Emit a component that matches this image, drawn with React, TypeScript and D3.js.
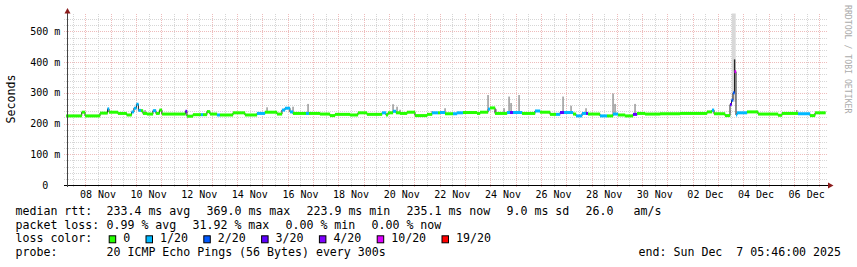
import React, { useEffect } from "react";
import * as d3 from "d3";

const W = 857;
const H = 267;
const START = new Date(Date.UTC(2025, 10, 7, 5, 46));
const END = new Date(Date.UTC(2025, 11, 7, 5, 46));
const ORIGIN = Date.UTC(2025, 10, 7); // day offsets below count from 7 Nov 00:00

// median rtt as step segments: start (days since 7 Nov 00:00), median (ms), loss class
const segDay = [
  0.240, 0.857, 0.987, 1.580, 1.876, 1.935, 2.287, 2.631, 2.828, 2.919, 3.018, 3.097, 3.196, 3.275,
  3.433, 3.670, 3.789, 3.927, 4.026, 4.954, 5.014, 5.251, 5.567, 5.646, 5.804, 5.923, 6.200, 6.318,
  6.832, 7.306, 7.780, 8.096, 8.571, 8.768, 8.887, 9.084, 9.202, 9.716, 9.835, 10.269, 10.664, 10.862,
  11.454, 11.770, 12.126, 12.719, 12.877, 12.956, 13.153, 13.272, 13.430, 13.709, 14.025, 14.499,
  14.697, 14.934, 15.013, 15.210, 15.526, 15.684, 15.921, 16.475, 16.593, 16.909, 16.988, 17.186,
  17.660, 17.778, 17.897, 18.252, 18.766, 18.964, 19.359, 19.596, 19.754, 19.912, 20.268, 20.386,
  20.623, 20.781, 20.860, 21.334, 21.611, 21.848, 22.045, 22.322, 22.638, 22.796, 23.112, 23.705,
  24.495, 25.285, 25.562, 25.759, 25.838, 26.273, 26.471, 26.530, 26.589, 26.649, 26.708, 26.747,
  27.142, 27.577, 28.367, 28.525, 29.157, 29.631, 29.829,
];
const segMs = [
  225, 237, 225, 234, 248, 237, 233, 228, 238, 250, 263, 243, 242, 233,
  231, 242, 233, 244, 231, 240, 224, 229, 229, 229, 239, 231, 228, 228,
  235, 228, 233, 237, 231, 244, 250, 238, 233, 233, 233, 231, 226, 230,
  228, 235, 230, 235, 228, 235, 240, 235, 233, 237, 226, 230,
  235, 235, 236, 232, 232, 235, 236, 233, 237, 247, 251, 233,
  236, 236, 236, 233, 241, 237, 230, 230, 236, 236, 231, 225,
  233, 233, 231, 225, 225, 231, 228, 225, 230, 233, 231, 232,
  233, 233, 238, 244, 232, 226, 262, 276, 300, 369, 228, 235,
  238, 231, 227, 233, 232, 226, 235,
];
const segLoss = [
  0, 0, 0, 0, 1, 0, 0, 0, 1, 1, 1, 1, 0, 0,
  0, 1, 0, 0, 0, 3, 0, 0, 1, 0, 0, 0, 1, 0,
  0, 0, 1, 0, 0, 1, 1, 1, 0, 1, 0, 0, 0, 0,
  0, 0, 0, 1, 0, 0, 1, 0, 0, 0, 0, 0,
  1, 0, 1, 0, 1, 1, 0, 0, 0, 1, 0, 0,
  1, 3, 1, 0, 1, 0, 0, 1, 3, 1, 0, 1,
  1, 3, 0, 1, 0, 1, 0, 0, 3, 0, 0, 0,
  0, 0, 0, 1, 0, 0, 3, 2, 2, 5, 1, 1,
  0, 0, 0, 0, 1, 0, 0,
];

// smoke: highest pings seen above the median
const spikeDay = [
  3.358, 3.753, 5.847, 8.178, 9.205, 9.798, 13.156, 13.314, 13.432, 14.697, 15.211, 16.909,
  17.226, 17.542, 17.740, 17.819, 18.135, 19.873, 20.189, 20.781, 21.848, 21.927, 22.717, 29.107,
];
const spikeMs = [
  244, 246, 242, 253, 255, 264, 263, 255, 245, 241, 250, 293,
  247, 250, 288, 267, 293, 288, 258, 250, 298, 264, 264, 244,
];
const darkSmokeDay = [26.649];
const darkSmokeMs = [409];
const lightSmokeFrom = [26.539];
const lightSmokeTo = [26.697];
const lightSmokeMs = [560];

const yTicks = [0, 100, 200, 300, 400, 500];
const lossLabels = ["0", "1/20", "2/20", "3/20", "4/20", "10/20", "19/20"];
const lossColors = ["#26ff00", "#00b8ff", "#0059ff", "#5e00ff", "#7e00ff", "#dd00ff", "#ff0000"];
const medianStats = ["233.4 ms avg", "369.0 ms max", "223.9 ms min", "235.1 ms now", "9.0 ms sd", "26.0", "am/s"];
const lossStats = ["0.99 % avg", "31.92 % max", "0.00 % min", "0.00 % now"];
const probeText = "20 ICMP Echo Pings (56 Bytes) every 300s";
const endText = "end: Sun Dec  7 05:46:00 2025";

const FONT = "'DejaVu Sans Mono', monospace";
const CH = 7.0; // legend char advance
const GAP = 16;

const dayToDate = (d: number) => new Date(ORIGIN + d * 86400000);
const keepSpaces = (s: string) => s.replace(/ /g, "\u00a0");

export default function App() {
  useEffect(() => {
    document.body.style.margin = "0";
  }, []);

  const x = d3.scaleUtc().domain([START, END]).range([66.1, 825.4]);
  const y = d3.scaleLinear().domain([0, 558.4]).range([185, 13.5]).clamp(true);

  const segEnd = segDay.map((d, i) => (i + 1 < segDay.length ? dayToDate(segDay[i + 1]) : END));
  const segStart = segDay.map((d, i) => (i === 0 ? START : dayToDate(d)));

  const medianAt = (day: number) => {
    const i = Math.max(0, d3.bisectRight(segDay, day) - 1);
    return segMs[i];
  };

  const stepPts: [number, number][] = segMs.map((v, i) => [x(segStart[i]), y(v)]);
  stepPts.push([x(END), y(segMs[segMs.length - 1])]);
  const stepPath = d3.line().curve(d3.curveStepAfter)(stepPts) || "";

  const minorH = d3.range(20, 558, 20).filter((v) => v % 100 !== 0);
  const majorH = [100, 200, 300, 400, 500];
  const days = d3.utcDay.range(d3.utcDay.ceil(START), END);
  const noons = d3.utcHour.range(START, END).filter((d) => d.getUTCHours() === 12);
  const labelDays = d3.utcDay.range(new Date(Date.UTC(2025, 10, 8)), END, 2).map((d) => d3.utcHour.offset(d, 12));
  const fmt = d3.utcFormat("%d %b");

  const yTop = y(558.4);
  const snap = (v: number) => Math.round(v) + 0.5;

  // legend layout
  const line1X: number[] = [];
  {
    let cx = 106.5;
    medianStats.forEach((s, i) => {
      line1X.push(i === medianStats.length - 1 ? cx + 4 : cx);
      cx += s.length * CH + GAP;
    });
  }
  const line2X: number[] = [];
  {
    let cx = 106.5;
    lossStats.forEach((s) => {
      line2X.push(cx);
      cx += s.length * CH + GAP;
    });
  }
  const boxX: number[] = [];
  {
    let bx = 108.7;
    lossLabels.forEach((s) => {
      boxX.push(bx);
      bx += 14.5 + s.length * CH + 15.3;
    });
  }
  const base = [215.3, 228.8, 242.4, 256];

  return (
    <svg
      width={W}
      height={H}
      viewBox={`0 0 ${W} ${H}`}
      style={{ position: "absolute", left: 0, top: 0, display: "block", background: "#fff" }}
      fontFamily={FONT}
    >
      <rect x={0} y={0} width={W} height={H} fill="#fff" />
      {/* grid */}
      <g shapeRendering="crispEdges" strokeWidth={1} strokeDasharray="1,1">
        {minorH.map((v) => (
          <line key={"mh" + v} x1={64} x2={828} y1={snap(y(v))} y2={snap(y(v))} stroke="#d6d6d6" />
        ))}
        {noons.map((d, i) => (
          <line key={"mv" + i} x1={snap(x(d))} x2={snap(x(d))} y1={yTop} y2={187} stroke="#d6d6d6" />
        ))}
        {days.map((d, i) => (
          <line key={"Mv" + i} x1={snap(x(d))} x2={snap(x(d))} y1={yTop} y2={187} stroke="#eebcbc" />
        ))}
        {majorH.map((v) => (
          <line key={"Mh" + v} x1={64} x2={828} y1={snap(y(v))} y2={snap(y(v))} stroke="#eebcbc" />
        ))}
      </g>

      {/* smoke */}
      {lightSmokeFrom.map((d, i) => (
        <rect
          key={"ls" + i}
          x={x(dayToDate(d))}
          width={x(dayToDate(lightSmokeTo[i])) - x(dayToDate(d))}
          y={y(lightSmokeMs[i])}
          height={y(medianAt(d) - 5) - y(lightSmokeMs[i])}
          fill="#d8d8d8"
        />
      ))}
      {spikeDay.map((d, i) => (
        <rect
          key={"sp" + i}
          x={x(dayToDate(d)) - 0.6}
          width={1.3}
          y={y(spikeMs[i])}
          height={Math.max(0, y(medianAt(d)) - y(spikeMs[i]))}
          fill="#8a8a8a"
        />
      ))}
      {darkSmokeDay.map((d, i) => (
        <rect
          key={"ds" + i}
          x={x(dayToDate(d)) - 0.6}
          width={1.4}
          y={y(darkSmokeMs[i])}
          height={y(medianAt(d)) - y(darkSmokeMs[i])}
          fill="#262626"
        />
      ))}

      {/* median */}
      <path d={stepPath} fill="none" stroke="#202020" strokeWidth={1} />
      {segMs.map((v, i) => (
        <rect
          key={"b" + i}
          x={x(segStart[i])}
          width={x(segEnd[i]) - x(segStart[i]) + 0.2}
          y={y(v) - 1.5}
          height={3}
          fill={lossColors[segLoss[i]]}
        />
      ))}

      {/* axes */}
      <line x1={64} x2={828} y1={185.5} y2={185.5} stroke="#000" strokeWidth={1} shapeRendering="crispEdges" />
      <line x1={67.5} x2={67.5} y1={187} y2={13} stroke="#444" strokeWidth={1} shapeRendering="crispEdges" />
      <polygon points="64.5,13.5 70.5,13.5 67.5,8" fill="#8b1c1c" />
      <polygon points="828,182.5 828,188.5 833.5,185.5" fill="#8b1c1c" />

      {/* y labels */}
      <g fontSize={10} fill="#000">
        {yTicks.map((v) => (
          <text key={"yl" + v} x={v === 0 ? 48.3 : 60.3} y={y(v) + 3.6} textAnchor="end">
            {v === 0 ? "0" : `${v} m`}
          </text>
        ))}
        {labelDays.map((d, i) => (
          <text key={"xl" + i} x={x(d)} y={198.2} textAnchor="middle">
            {fmt(d)}
          </text>
        ))}
      </g>

      <text x={0} y={0} fontSize={11.6} textAnchor="middle" transform="translate(15.2,99) rotate(-90)">
        Seconds
      </text>
      <text x={0} y={0} fontSize={8.2} fill="#ababab" transform="translate(844.5,5) rotate(90)">
        RRDTOOL / TOBI OETIKER
      </text>

      {/* legend */}
      <g fontSize={11.6} fill="#000">
        <text x={15.5} y={base[0]}>median rtt:</text>
        {medianStats.map((s, i) => (
          <text key={"m" + i} x={line1X[i]} y={base[0]}>
            {keepSpaces(s)}
          </text>
        ))}
        <text x={15.5} y={base[1]}>packet loss:</text>
        {lossStats.map((s, i) => (
          <text key={"l" + i} x={line2X[i]} y={base[1]}>
            {keepSpaces(s)}
          </text>
        ))}
        <text x={15.5} y={base[2]}>loss color:</text>
        {lossLabels.map((s, i) => (
          <g key={"lc" + i}>
            <rect x={boxX[i] + 0.5} y={235.8} width={6.5} height={7} fill={lossColors[i]} stroke="#000" strokeWidth={1} />
            <text x={boxX[i] + 14.5} y={base[2]}>
              {s}
            </text>
          </g>
        ))}
        <text x={15.5} y={base[3]}>probe:</text>
        <text x={106.5} y={base[3]}>
          {keepSpaces(probeText)}
        </text>
        <text x={841} y={base[3]} textAnchor="end">
          {keepSpaces(endText)}
        </text>
      </g>
    </svg>
  );
}
